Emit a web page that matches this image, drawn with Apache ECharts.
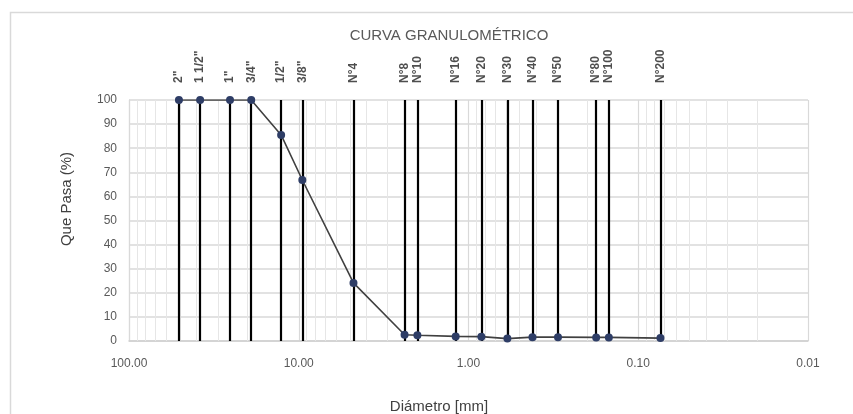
<!DOCTYPE html>
<html>
<head>
<meta charset="utf-8">
<script src="https://cdn.jsdelivr.net/npm/echarts@6/dist/echarts.min.js"></script>
<style>
  html, body { margin: 0; padding: 0; background: #fff; }
  #chart { width: 853px; height: 414px; }
</style>
</head>
<body>
<div id="chart"></div>
<script>
// Sieve series: nominal opening (mm), sieve name, and percent passing
const sieveNames = ['2"', '1 1/2"', '1"', '3/4"', '1/2"', '3/8"', 'N°4', 'N°8', 'N°10',
                    'N°16', 'N°20', 'N°30', 'N°40', 'N°50', 'N°80', 'N°100', 'N°200'];
const sieveOpenings = [50.8, 38.1, 25.4, 19.05, 12.7, 9.525, 4.76, 2.38, 2.0,
                       1.19, 0.84, 0.59, 0.42, 0.297, 0.177, 0.149, 0.074];
const percentPassing = [100, 100, 100, 100, 85.5, 66.8, 24.1, 2.6, 2.4,
                        1.9, 1.8, 1.0, 1.6, 1.6, 1.5, 1.5, 1.2];

// Diameter axis range (mm) and percent axis ticks
const diameterMin = 0.01;
const diameterMax = 100;
const percentTicks = [0, 10, 20, 30, 40, 50, 60, 70, 80, 90, 100];

// Minor log gridlines: 2..9 within each decade
const minorGrid = [];
for (let e = -2; e < 2; e++) {
  for (let m = 2; m <= 9; m++) minorGrid.push(+(m * Math.pow(10, e)).toPrecision(3));
}

const FONT = '"Liberation Sans", Arial, sans-serif';
const chart = echarts.init(document.getElementById('chart'), null, { renderer: 'canvas' });

const curve = sieveOpenings.map((d, i) => [d, percentPassing[i]]);
const labelAnchors = sieveOpenings.map((d, i) => ({ value: [d, 100], name: sieveNames[i] }));
const sieveLines = sieveOpenings.map(d => ({ coords: [[d, 0], [d, 100]] }));
const minorLines = minorGrid.map(d => ({ coords: [[d, 0], [d, 100]] }));

chart.setOption({
  animation: false,
  backgroundColor: '#ffffff',
  textStyle: { fontFamily: FONT },
  graphic: [
    {
      type: 'rect', silent: true, z: -10,
      shape: { x: 10.5, y: 12.5, width: 900, height: 500 },
      style: { fill: 'none', stroke: '#d9d9d9', lineWidth: 1.5 }
    },
    {
      type: 'text', x: 449, y: 36,
      style: { text: 'CURVA GRANULOMÉTRICO', fill: '#595959', font: '15px ' + FONT,
               align: 'center', verticalAlign: 'middle' }
    },
    {
      type: 'text', x: 67, y: 199, rotation: Math.PI / 2,
      style: { text: 'Que Pasa (%)', fill: '#404040', font: '15px ' + FONT,
               align: 'center', verticalAlign: 'middle' }
    },
    {
      type: 'text', x: 439, y: 407,
      style: { text: 'Diámetro [mm]', fill: '#404040', font: '15px ' + FONT,
               align: 'center', verticalAlign: 'middle' }
    }
  ],
  grid: { left: 129, right: 45, top: 100, bottom: 73, containLabel: false },
  xAxis: {
    type: 'log', logBase: 10, min: diameterMin, max: diameterMax, inverse: true,
    axisLine: { show: true, lineStyle: { color: '#d0d0d0', width: 1.5 } },
    axisTick: { show: false },
    axisLabel: {
      color: '#595959', fontSize: 12, margin: 17,
      formatter: v => Number(v).toFixed(2)
    },
    splitLine: { show: true, lineStyle: { color: '#d9d9d9', width: 1.2 } }
  },
  yAxis: {
    type: 'value', min: 0, max: 100, interval: 10,
    axisLine: { show: true, lineStyle: { color: '#d9d9d9', width: 1.2 } },
    axisTick: { show: false },
    axisLabel: {
      color: '#595959', fontSize: 12, margin: 12,
      formatter: v => (percentTicks.includes(v) ? String(v) : '')
    },
    splitLine: { show: true, lineStyle: { color: '#d9d9d9', width: 1.5 } }
  },
  series: [
    {
      // faint minor gridlines within each decade
      type: 'lines', coordinateSystem: 'cartesian2d', silent: true, z: 1,
      lineStyle: { color: '#e6e6e6', width: 1, opacity: 1 },
      data: minorLines
    },
    {
      // black vertical line at each sieve opening
      type: 'lines', coordinateSystem: 'cartesian2d', silent: true, z: 3,
      lineStyle: { color: '#000000', width: 2.2, opacity: 1 },
      data: sieveLines
    },
    {
      // sieve names above the plot
      type: 'scatter', data: labelAnchors, symbolSize: 0, z: 3, silent: true,
      label: {
        show: true, position: 'top', distance: 17, rotate: 90,
        align: 'left', verticalAlign: 'middle',
        formatter: p => p.name,
        color: '#222', fontSize: 12, fontWeight: 'bold'
      }
    },
    {
      type: 'line', data: curve, z: 5,
      symbol: 'circle', symbolSize: 8,
      lineStyle: { color: '#404040', width: 1.6 },
      itemStyle: { color: '#2E3D66' }
    }
  ]
});
</script>
</body>
</html>
